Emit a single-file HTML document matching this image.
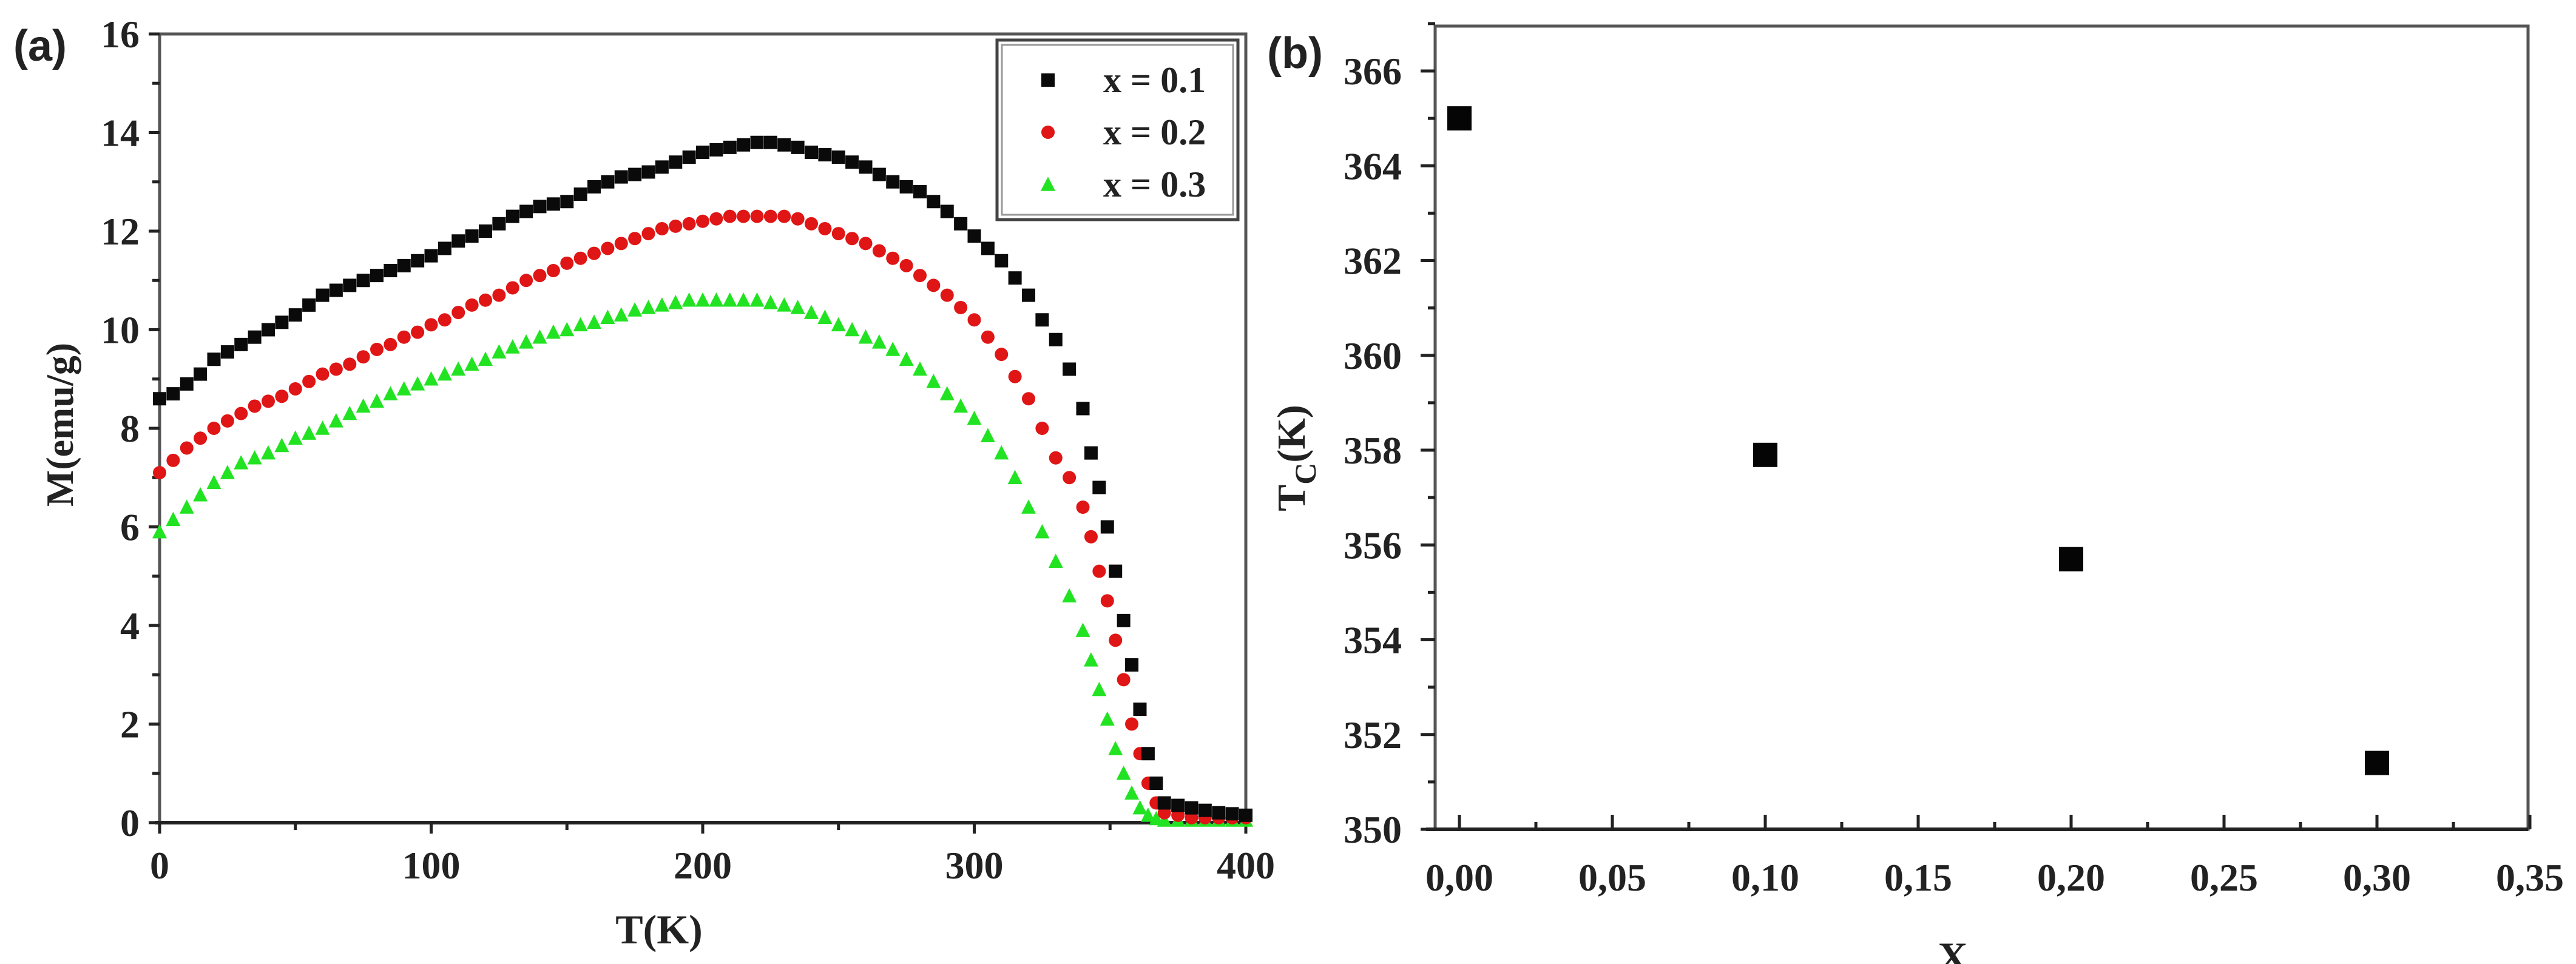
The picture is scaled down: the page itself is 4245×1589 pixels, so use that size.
<!DOCTYPE html>
<html><head><meta charset="utf-8">
<style>
html,body{margin:0;padding:0;background:#fff;}
svg{display:block;}
text{font-family:"Liberation Serif",serif;font-weight:bold;fill:#222;}
</style></head>
<body>
<svg id="fig" width="4245" height="1589" viewBox="0 0 4245 1589" xmlns="http://www.w3.org/2000/svg">
<g id="pa"></g>
<g id="pb"></g>
</svg>
<script>
// ---------- Panel (a) data ----------
const tempsA = [0,5,10,15,20,25,30,35,40,45,50,55,60,65,70,75,80,85,90,95,100,105,110,115,120,125,130,135,140,145,150,155,160,165,170,175,180,185,190,195,200,205,210,215,220,225,230,235,240,245,250,255,260,265,270,275,280,285,290,295,300,305,310,315,320,325,330,335,340,343,346,349,352,355,358,361,364,367,370,375,380,385,390,395,400];
const mX01 = [8.6,8.7,8.9,9.1,9.4,9.55,9.7,9.85,10.0,10.15,10.3,10.5,10.7,10.8,10.9,11.0,11.1,11.2,11.3,11.4,11.5,11.65,11.8,11.9,12.0,12.15,12.3,12.4,12.5,12.55,12.6,12.75,12.9,13.0,13.1,13.15,13.2,13.3,13.4,13.5,13.6,13.65,13.7,13.75,13.8,13.8,13.75,13.7,13.6,13.55,13.5,13.4,13.3,13.15,13.0,12.9,12.8,12.6,12.4,12.15,11.9,11.65,11.4,11.05,10.7,10.2,9.8,9.2,8.4,7.5,6.8,6.0,5.1,4.1,3.2,2.3,1.4,0.8,0.4,0.35,0.3,0.25,0.2,0.18,0.15];
const mX02 = [7.1,7.35,7.6,7.8,8.0,8.15,8.3,8.45,8.55,8.65,8.8,8.95,9.1,9.2,9.3,9.45,9.6,9.7,9.85,9.95,10.1,10.2,10.35,10.5,10.6,10.7,10.85,11.0,11.1,11.2,11.35,11.45,11.55,11.65,11.75,11.85,11.95,12.05,12.1,12.15,12.2,12.25,12.3,12.3,12.3,12.3,12.3,12.25,12.15,12.05,11.95,11.85,11.75,11.6,11.45,11.3,11.1,10.9,10.7,10.45,10.2,9.85,9.5,9.05,8.6,8.0,7.4,7.0,6.4,5.8,5.1,4.5,3.7,2.9,2.0,1.4,0.8,0.4,0.2,0.15,0.1,0.1,0.1,0.1,0.1];
const mX03 = [5.9,6.15,6.4,6.65,6.9,7.1,7.3,7.4,7.5,7.65,7.8,7.9,8.0,8.15,8.3,8.45,8.55,8.7,8.8,8.9,9.0,9.1,9.2,9.3,9.4,9.55,9.65,9.75,9.85,9.95,10.0,10.1,10.15,10.25,10.3,10.4,10.45,10.5,10.55,10.6,10.6,10.6,10.6,10.6,10.6,10.55,10.5,10.45,10.35,10.25,10.1,10.0,9.85,9.75,9.6,9.4,9.2,8.95,8.7,8.45,8.2,7.85,7.5,7.0,6.4,5.9,5.3,4.6,3.9,3.3,2.7,2.1,1.5,1.0,0.6,0.3,0.15,0.08,0.05,0.05,0.05,0.05,0.05,0.05,0.05];
const xTicksA = [0,100,200,300,400];
const yTicksA = [0,2,4,6,8,10,12,14,16];
const legendLabels = ["x = 0.1","x = 0.2","x = 0.3"];
// ---------- Panel (b) data ----------
const xB = [0.00,0.10,0.20,0.30];
const tcB = [365.0,357.9,355.7,351.4];
const xTicksB = ["0,00","0,05","0,10","0,15","0,20","0,25","0,30","0,35"];
const xTickValsB = [0,0.05,0.10,0.15,0.20,0.25,0.30,0.35];
const yTicksB = [350,352,354,356,358,360,362,364,366];

const NS="http://www.w3.org/2000/svg";
function mk(parent,tag,attrs,txt){const e=document.createElementNS(NS,tag);for(const k in attrs)e.setAttribute(k,attrs[k]);if(txt!==undefined)e.textContent=txt;parent.appendChild(e);return e;}

// ---- Panel a ----
const pa=document.getElementById('pa');
const ax=v=>263+(v-0)*(2053-263)/400;
const ay=v=>1356-(v)*(1356-56)/16;
let e;
e=mk(pa,'rect',{x:263,y:56,width:2053-263,height:1300,fill:'none',stroke:'#555',"stroke-width":5});


e=mk(pa,'line',{x1:255,y1:1356,x2:2053,y2:1356,stroke:'#222',"stroke-width":6});


for(let v=0;v<=400;v+=50){
  e=mk(pa,'line',{x1:ax(v),y1:1356,x2:ax(v),y2:1356+(v%100===0?18:12),stroke:'#222',"stroke-width":5});
  
  
}
xTicksA.forEach(v=>{
  e=mk(pa,'text',{x:ax(v),y:1448,"font-size":64,"text-anchor":"middle"},String(v));
  
  
});
for(let v=0;v<=16;v+=1){
  e=mk(pa,'line',{x1:263,y1:ay(v),x2:263-(v%2===0?18:12),y2:ay(v),stroke:'#222',"stroke-width":5});
  
  
}
yTicksA.forEach(v=>{
  e=mk(pa,'text',{x:230,y:ay(v)+22,"font-size":64,"text-anchor":"end"},String(v));
  
  
});
e=mk(pa,'text',{x:1086,y:1555,"font-size":68,"text-anchor":"middle"},'T(K)');


e=mk(pa,'text',{x:0,y:0,"font-size":64,"text-anchor":"middle",transform:"translate(120,700) rotate(-90)"},'M(emu/g)');


e=mk(pa,'text',{x:22,y:100,"font-size":72,style:"font-family:'Liberation Sans',sans-serif"},'(a)');



function square(g,cx,cy,s,col,name){const r=mk(g,'rect',{x:cx-s/2,y:cy-s/2,width:s,height:s,fill:col});return r;}
function circle(g,cx,cy,s,col,name){const r=mk(g,'circle',{cx:cx,cy:cy,r:s/2,fill:col});return r;}
function tri(g,cx,cy,s,col,name){const h=s*0.9;const r=mk(g,'polygon',{points:`${cx},${cy-h/2-2} ${cx-s/2},${cy+h/2} ${cx+s/2},${cy+h/2}`,fill:col});return r;}

const gG=mk(pa,'g',{});
const gR=mk(pa,'g',{});
const gK=mk(pa,'g',{});
tempsA.forEach((t,i)=>{
  tri(gG,ax(t),ay(mX03[i]),24,'#22e322','point-x03');
  circle(gR,ax(t),ay(mX02[i]),22,'#e01515','point-x02');
  square(gK,ax(t),ay(mX01[i]),22,'#0a0a0a','point-x01');
});
// legend
const lg=mk(pa,'g',{});
e=mk(lg,'rect',{x:1643,y:66,width:397,height:296,fill:'#fff',stroke:'#444',"stroke-width":5});


e=mk(lg,'rect',{x:1651,y:74,width:381,height:280,fill:'none',stroke:'#999',"stroke-width":3});


const legY=[132,218,304];
square(lg,1727,legY[0],22,'#0a0a0a','legend-marker-x01');
circle(lg,1727,legY[1],22,'#e01515','legend-marker-x02');
tri(lg,1727,legY[2],24,'#22e322','legend-marker-x03');
legendLabels.forEach((l,i)=>{
  e=mk(lg,'text',{x:1818,y:legY[i]+20,"font-size":60},l);
  
  
});

// ---- Panel b ----
const pb=document.getElementById('pb');
const bx=v=>2405+v*(4169-2405)/0.35;
const by=v=>1367-(v-350)*(1367-117)/16;
e=mk(pb,'rect',{x:2365,y:43,width:4166-2365,height:1367-43,fill:'none',stroke:'#555',"stroke-width":5});


e=mk(pb,'line',{x1:2350,y1:1367,x2:4166,y2:1367,stroke:'#222',"stroke-width":6});


for(let k=0;k<=14;k++){
  const v=k*0.025;
  e=mk(pb,'line',{x1:bx(v),y1:1367,x2:bx(v),y2:1367-(k%2===0?24:12),stroke:'#222',"stroke-width":5});
  
  
}
xTicksB.forEach((l,i)=>{
  e=mk(pb,'text',{x:bx(xTickValsB[i]),y:1468,"font-size":64,"text-anchor":"middle"},l);
  
  
});
for(let v=350;v<=367;v+=1){
  e=mk(pb,'line',{x1:2365,y1:by(v),x2:2365-(v%2===0?24:12),y2:by(v),stroke:'#222',"stroke-width":5});
  
  
}
yTicksB.forEach(v=>{
  e=mk(pb,'text',{x:2310,y:by(v)+22,"font-size":64,"text-anchor":"end"},String(v));
  
  
});
e=mk(pb,'text',{x:3218,y:1600,"font-size":68,"text-anchor":"middle"},'X');


const yt=mk(pb,'text',{x:0,y:0,"font-size":66,"text-anchor":"middle",transform:"translate(2150,755) rotate(-90)"},'');


mk(yt,'tspan',{},'T');
mk(yt,'tspan',{dy:18,"font-size":50},'C');
mk(yt,'tspan',{dy:-18},'(K)');
e=mk(pb,'text',{x:2088,y:112,"font-size":72,style:"font-family:'Liberation Sans',sans-serif"},'(b)');


const gB=mk(pb,'g',{});
xB.forEach((x,i)=>{square(gB,bx(x),by(tcB[i]),40,'#050505','point-tc');});
</script>
</body></html>
